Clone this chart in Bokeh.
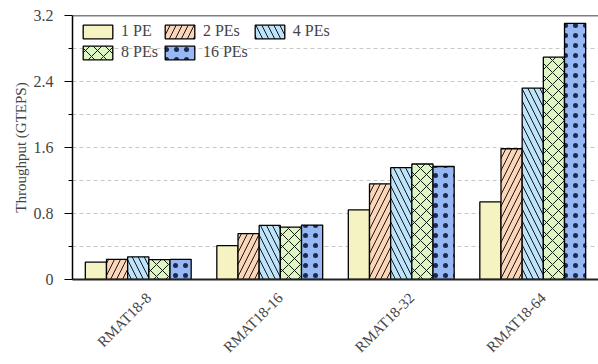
from bokeh.plotting import figure
from bokeh.models import (ColumnDataSource, FixedTicker, Span,
                          PrintfTickFormatter, Range1d, LegendItem, Legend, LinearAxis,
                          LinearScale)
from bokeh.transform import dodge
from bokeh.embed import file_html
from bokeh.resources import INLINE
import math

# Throughput (GTEPS) per graph for each PE count
graphs = ["RMAT18-8", "RMAT18-16", "RMAT18-32", "RMAT18-64"]
pe1 = [0.21, 0.41, 0.845, 0.94]
pe2 = [0.245, 0.555, 1.16, 1.585]
pe4 = [0.275, 0.655, 1.355, 2.32]
pe8 = [0.24, 0.635, 1.40, 2.695]
pe16 = [0.245, 0.66, 1.37, 3.105]

series_names = ["1 PE", "2 PEs", "4 PEs", "8 PEs", "16 PEs"]
y_ticks = [0, 0.8, 1.6, 2.4, 3.2]
y_minor = [0.4, 1.2, 2.0, 2.8]

FONT = "Times New Roman"

# group centres on a numeric axis, one unit per graph
centers = [k + 0.5 for k in range(len(graphs))]
src = ColumnDataSource(dict(xc=centers, pe1=pe1, pe2=pe2, pe4=pe4, pe8=pe8, pe16=pe16))

p = figure(width=598, height=364, output_backend="svg", toolbar_location=None,
           x_range=Range1d(0, len(graphs)),
           y_range=Range1d(0, 3.2),
           min_border_left=72, min_border_right=0, min_border_top=15,
           min_border_bottom=85)
p.outline_line_color = None
p.background_fill_color = "white"
p.border_fill_color = "white"

styles = [
    ("pe1", "#f5f3c1", None),
    ("pe2", "#fcd6b8", "right_diagonal_line"),
    ("pe4", "#bde4fb", "left_diagonal_line"),
    ("pe8", "#def5c4", "diagonal_cross"),
    ("pe16", "#97b8f2", "dot"),
]
bw = 0.161
renderers = []
for i, (col, color, hatch) in enumerate(styles):
    kw = {}
    if hatch == "dot":
        kw = dict(hatch_pattern=hatch, hatch_color="#1a2a50", hatch_weight=0.8,
                  hatch_scale=10)
    elif hatch:
        kw = dict(hatch_pattern=hatch, hatch_color="black", hatch_weight=0.9,
                  hatch_scale=12)
    r = p.vbar(x=dodge("xc", (i - 2) * bw), top=col, width=bw,
               source=src, fill_color=color, line_color="black", line_width=1.3, **kw)
    renderers.append(r)

# frame top edge
p.add_layout(Span(location=3.2, dimension="width", line_color="black", line_width=1.5))

# grid
p.xgrid.visible = False
p.ygrid.ticker = FixedTicker(ticks=y_ticks + y_minor)
p.ygrid.grid_line_color = "#c8c8c8"
p.ygrid.grid_line_dash = "4 3"
p.ygrid.grid_line_width = 1

# y axis
ya = p.yaxis[0]
ya.ticker = FixedTicker(ticks=y_ticks, minor_ticks=y_minor)
ya.formatter = PrintfTickFormatter(format="%.1f")
ya.major_label_overrides = {0: "0"}
ya.axis_label = "Throughput (GTEPS)"
ya.axis_label_text_font = FONT
ya.axis_label_text_font_style = "normal"
ya.axis_label_text_font_size = "15px"
ya.axis_label_standoff = 2
ya.major_label_text_font = FONT
ya.major_label_text_font_size = "16px"
ya.axis_line_color = "black"
ya.axis_line_width = 1.5
ya.major_tick_out = 8
ya.major_tick_in = 0
ya.minor_tick_out = 4
ya.minor_tick_in = 0
ya.major_tick_line_color = "black"
ya.minor_tick_line_color = "black"
ya.major_label_standoff = 11

# x axis: the default one is hidden; a twin on a slightly nudged range
# carries the baseline and the rotated graph names
p.xaxis[0].visible = False
p.extra_x_ranges = {"lab": Range1d(-0.08, len(graphs) - 0.08)}
p.extra_x_scales = {"lab": LinearScale()}
xa = LinearAxis(x_range_name="lab",
                ticker=FixedTicker(ticks=centers),
                major_label_overrides={c: g for c, g in zip(centers, graphs)})
xa.major_label_orientation = math.pi / 4
xa.major_label_text_font = FONT
xa.major_label_text_font_size = "15px"
xa.major_label_standoff = 10
xa.axis_line_color = "#222222"
xa.axis_line_width = 2.2
xa.major_tick_line_color = None
xa.minor_tick_line_color = None
p.add_layout(xa, "below")

# legend, filled row by row (three per row)
order = [0, 3, 1, 4, 2]
items = [LegendItem(label=series_names[k], renderers=[renderers[k]]) for k in order]
lg = Legend(items=items, location="top_left", ncols=3, margin=7, padding=0,
            spacing=3, border_line_color=None, background_fill_alpha=0,
            glyph_width=37, glyph_height=17, label_height=17, label_standoff=5,
            label_text_font=FONT, label_text_font_size="16px")
p.add_layout(lg, "center")

open("out.html", "w").write(file_html(p, INLINE))
